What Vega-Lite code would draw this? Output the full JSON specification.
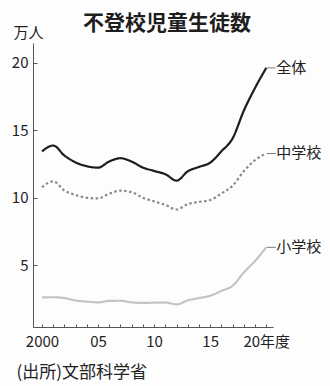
{
  "$schema": "https://vega.github.io/schema/vega-lite/v6.json",
  "width": 240,
  "height": 284,
  "autosize": {"type": "none"},
  "padding": {"left": 33, "top": 43, "right": 57, "bottom": 59},
  "background": "#fdfdfd",
  "config": {"view": {"stroke": null}, "font": "Noto Sans CJK JP"},
  "title": {
    "text": "不登校児童生徒数",
    "fontSize": 21,
    "fontWeight": "bold",
    "font": "Noto Sans CJK JP",
    "color": "#1e1e1e",
    "anchor": "middle",
    "dx": 14,
    "dy": 15,
    "offset": 6
  },
  "data": {
    "values": [
      {"year": 2000, "group": "全体", "value": 13.43}, {"year": 2000, "group": "中学校", "value": 10.79}, {"year": 2000, "group": "小学校", "value": 2.64},
      {"year": 2001, "group": "全体", "value": 13.87}, {"year": 2001, "group": "中学校", "value": 11.22}, {"year": 2001, "group": "小学校", "value": 2.65},
      {"year": 2002, "group": "全体", "value": 13.13}, {"year": 2002, "group": "中学校", "value": 10.54}, {"year": 2002, "group": "小学校", "value": 2.59},
      {"year": 2003, "group": "全体", "value": 12.62}, {"year": 2003, "group": "中学校", "value": 10.21}, {"year": 2003, "group": "小学校", "value": 2.41},
      {"year": 2004, "group": "全体", "value": 12.34}, {"year": 2004, "group": "中学校", "value": 10.0}, {"year": 2004, "group": "小学校", "value": 2.33},
      {"year": 2005, "group": "全体", "value": 12.23}, {"year": 2005, "group": "中学校", "value": 9.96}, {"year": 2005, "group": "小学校", "value": 2.27},
      {"year": 2006, "group": "全体", "value": 12.69}, {"year": 2006, "group": "中学校", "value": 10.31}, {"year": 2006, "group": "小学校", "value": 2.38},
      {"year": 2007, "group": "全体", "value": 12.93}, {"year": 2007, "group": "中学校", "value": 10.53}, {"year": 2007, "group": "小学校", "value": 2.39},
      {"year": 2008, "group": "全体", "value": 12.68}, {"year": 2008, "group": "中学校", "value": 10.42}, {"year": 2008, "group": "小学校", "value": 2.27},
      {"year": 2009, "group": "全体", "value": 12.24}, {"year": 2009, "group": "中学校", "value": 10.01}, {"year": 2009, "group": "小学校", "value": 2.23},
      {"year": 2010, "group": "全体", "value": 11.99}, {"year": 2010, "group": "中学校", "value": 9.74}, {"year": 2010, "group": "小学校", "value": 2.25},
      {"year": 2011, "group": "全体", "value": 11.75}, {"year": 2011, "group": "中学校", "value": 9.48}, {"year": 2011, "group": "小学校", "value": 2.26},
      {"year": 2012, "group": "全体", "value": 11.27}, {"year": 2012, "group": "中学校", "value": 9.14}, {"year": 2012, "group": "小学校", "value": 2.12},
      {"year": 2013, "group": "全体", "value": 11.96}, {"year": 2013, "group": "中学校", "value": 9.54}, {"year": 2013, "group": "小学校", "value": 2.42},
      {"year": 2014, "group": "全体", "value": 12.29}, {"year": 2014, "group": "中学校", "value": 9.7}, {"year": 2014, "group": "小学校", "value": 2.59},
      {"year": 2015, "group": "全体", "value": 12.6}, {"year": 2015, "group": "中学校", "value": 9.84}, {"year": 2015, "group": "小学校", "value": 2.76},
      {"year": 2016, "group": "全体", "value": 13.44}, {"year": 2016, "group": "中学校", "value": 10.32}, {"year": 2016, "group": "小学校", "value": 3.12},
      {"year": 2017, "group": "全体", "value": 14.4}, {"year": 2017, "group": "中学校", "value": 10.9}, {"year": 2017, "group": "小学校", "value": 3.5},
      {"year": 2018, "group": "全体", "value": 16.45}, {"year": 2018, "group": "中学校", "value": 11.97}, {"year": 2018, "group": "小学校", "value": 4.48},
      {"year": 2019, "group": "全体", "value": 18.13}, {"year": 2019, "group": "中学校", "value": 12.79}, {"year": 2019, "group": "小学校", "value": 5.34},
      {"year": 2020, "group": "全体", "value": 19.61}, {"year": 2020, "group": "中学校", "value": 13.28}, {"year": 2020, "group": "小学校", "value": 6.34}
    ]
  },
  "encoding": {
    "x": {
      "field": "year",
      "type": "quantitative",
      "scale": {"domain": [1999.2, 2020.6], "nice": false, "zero": false},
      "axis": {
        "values": [2000, 2001, 2002, 2003, 2004, 2005, 2006, 2007, 2008, 2009, 2010, 2011, 2012, 2013, 2014, 2015, 2016, 2017, 2018, 2019, 2020],
        "labelExpr": "datum.value == 2000 ? '2000' : datum.value == 2020 ? '20年度' : (datum.value % 5 == 0 ? slice(toString(datum.value), 2) : '')",
        "grid": false,
        "domainColor": "#555",
        "tickColor": "#555",
        "tickSize": -3,
        "labelPadding": 10,
        "labelFont": "Noto Sans CJK JP",
        "labelFontSize": 15,
        "labelColor": "#222",
        "labelOverlap": false,
        "labelFlush": false,
        "title": "(出所)文部科学省",
        "titleFont": "Noto Sans CJK JP",
        "titleFontSize": 17,
        "titleFontWeight": "normal",
        "titleColor": "#222",
        "titleAnchor": "start",
        "titleAlign": "left",
        "titleBaseline": "middle",
        "titleX": -17,
        "titleY": 45
      }
    },
    "y": {
      "field": "value",
      "type": "quantitative",
      "scale": {"domain": [0.45, 21.45], "nice": false, "zero": false},
      "axis": {
        "values": [5, 10, 15, 20],
        "grid": false,
        "domainColor": "#555",
        "tickColor": "#555",
        "tickSize": -4,
        "labelPadding": 9,
        "labelFont": "Noto Sans CJK JP",
        "labelFontSize": 15,
        "labelColor": "#222",
        "title": "万人",
        "titleFont": "Noto Sans CJK JP",
        "titleFontSize": 15,
        "titleFontWeight": "normal",
        "titleColor": "#222",
        "titleAngle": 0,
        "titleAlign": "center",
        "titleBaseline": "middle",
        "titleX": -5,
        "titleY": -11
      }
    }
  },
  "layer": [
    {
      "mark": {"type": "line", "interpolate": "monotone"},
      "encoding": {
        "color": {"field": "group", "type": "nominal", "scale": {"domain": ["全体", "中学校", "小学校"], "range": ["#1c1c1c", "#8a8a8a", "#c4c4c4"]}, "legend": null},
        "strokeDash": {"field": "group", "type": "nominal", "scale": {"domain": ["全体", "中学校", "小学校"], "range": [[1, 0], [2.5, 2.5], [1, 0]]}, "legend": null},
        "strokeWidth": {"field": "group", "type": "nominal", "scale": {"domain": ["全体", "中学校", "小学校"], "range": [2.2, 2.2, 1.6]}, "legend": null}
      }
    },
    {
      "transform": [{"filter": "datum.year == 2020"}],
      "mark": {"type": "tick", "orient": "horizontal", "size": 9, "thickness": 1, "xOffset": 5, "color": "#444"},
      "encoding": {}
    },
    {
      "transform": [{"filter": "datum.year == 2020"}],
      "mark": {"type": "text", "align": "left", "baseline": "middle", "dx": 10, "fontSize": 15, "font": "Noto Sans CJK JP", "color": "#222"},
      "encoding": {"text": {"field": "group"}}
    }
  ]
}
